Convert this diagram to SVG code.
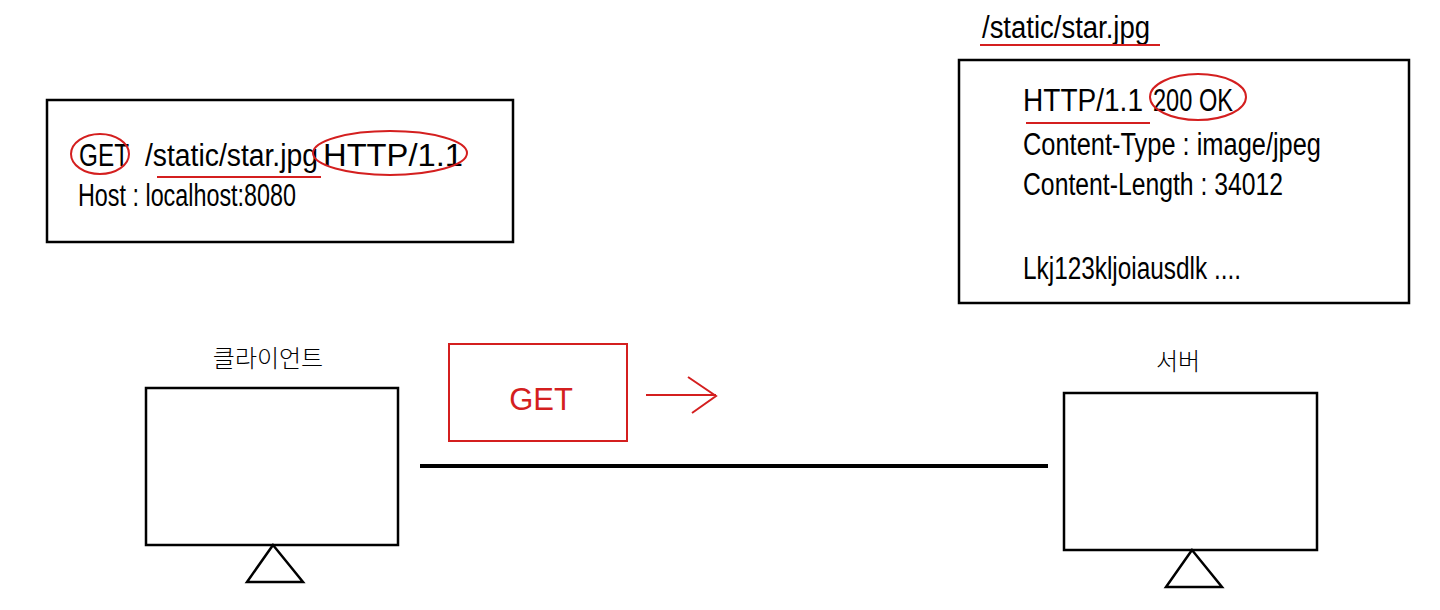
<svg xmlns="http://www.w3.org/2000/svg" width="1440" height="610" viewBox="0 0 1440 610">
<style>
.box{fill:#fff;stroke:#000;stroke-width:2.5}
.rbox{fill:#fff;stroke:#d41f1f;stroke-width:2}
.red{fill:none;stroke:#d41f1f;stroke-width:2}
.t{font-family:"Liberation Sans","Noto Sans CJK KR",sans-serif;font-size:31px;fill:#000}
.k{font-family:"Noto Sans CJK KR","Liberation Sans",sans-serif;font-size:24px;fill:#000;text-anchor:middle;font-weight:300}
</style>
<rect width="1440" height="610" fill="#fff"/>
<g id="request">
<rect class="box" x="47" y="100" width="466" height="142"/>
<text class="t" x="79" y="166" textLength="50" lengthAdjust="spacingAndGlyphs">GET</text>
<text class="t" x="145" y="166" textLength="173" lengthAdjust="spacingAndGlyphs">/static/star.jpg</text>
<text class="t" x="323" y="166" textLength="140" lengthAdjust="spacingAndGlyphs">HTTP/1.1</text>
<text class="t" x="78" y="206" textLength="218" lengthAdjust="spacingAndGlyphs">Host : localhost:8080</text>
<ellipse class="red" cx="100" cy="154" rx="29" ry="20"/>
<ellipse class="red" cx="390" cy="153" rx="77" ry="22"/>
<line class="red" x1="157" y1="177" x2="321" y2="177"/>
</g>
<g id="response">
<text class="t" x="982" y="38" textLength="168" lengthAdjust="spacingAndGlyphs">/static/star.jpg</text>
<line class="red" x1="980" y1="45" x2="1160" y2="45"/>
<rect class="box" x="959" y="60" width="450" height="243"/>
<text class="t" x="1023" y="111" textLength="120" lengthAdjust="spacingAndGlyphs">HTTP/1.1</text>
<text class="t" x="1153" y="111" textLength="80" lengthAdjust="spacingAndGlyphs">200 OK</text>
<ellipse class="red" cx="1198" cy="97" rx="48" ry="23"/>
<line class="red" x1="1026" y1="123" x2="1150" y2="123"/>
<text class="t" x="1023" y="155" textLength="298" lengthAdjust="spacingAndGlyphs">Content-Type : image/jpeg</text>
<text class="t" x="1023" y="195" textLength="260" lengthAdjust="spacingAndGlyphs">Content-Length : 34012</text>
<text class="t" x="1023" y="279" textLength="218" lengthAdjust="spacingAndGlyphs">Lkj123kljoiausdlk ....</text>
</g>
<g id="client">
<text class="k" x="268" y="367">클라이언트</text>
<rect class="box" x="146" y="388" width="252" height="157"/>
<polygon class="box" points="273,545 247,582 303,582"/>
</g>
<g id="server">
<text class="k" x="1178" y="370">서버</text>
<rect class="box" x="1064" y="393" width="253" height="157"/>
<polygon class="box" points="1192,550 1166,587 1222,587"/>
</g>
<g id="get">
<rect class="rbox" x="449" y="344" width="178" height="97"/>
<text x="541" y="410" text-anchor="middle" style="font-family:'Liberation Sans',sans-serif;font-size:31px;fill:#d41f1f">GET</text>
</g>
<g id="connectors">
<line x1="420" y1="466" x2="1048" y2="466" stroke="#000" stroke-width="4"/>
<line class="red" x1="646" y1="395" x2="716" y2="395"/>
<polyline class="red" points="688,377 716,396 692,413"/>
</g>
</svg>
